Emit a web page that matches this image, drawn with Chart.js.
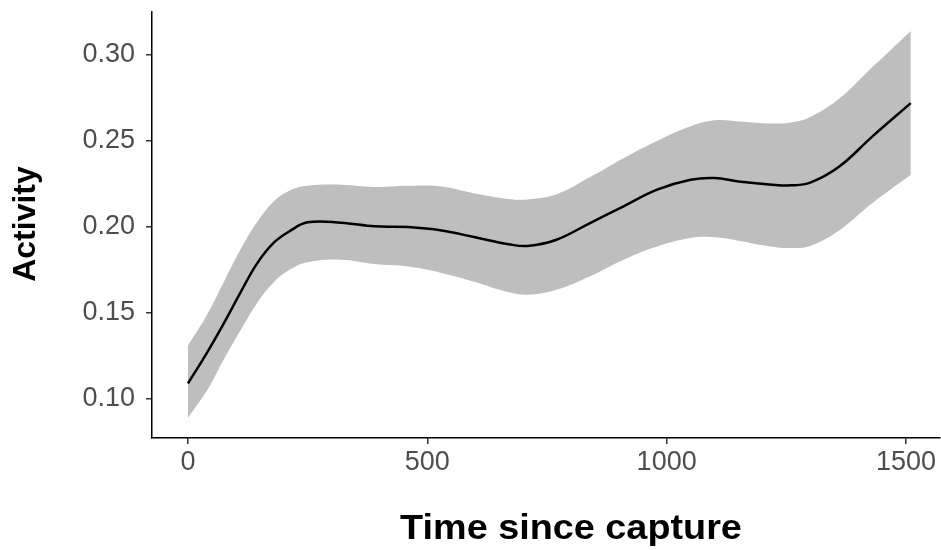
<!DOCTYPE html>
<html>
<head>
<meta charset="utf-8">
<script src="https://cdn.jsdelivr.net/npm/chart.js@4"></script>
<style>
    body { margin: 0; background: #fff; overflow: hidden; }
</style>
</head>
<body>
<canvas id="chart" width="941" height="550"></canvas>
<script>
// time since capture (x), fitted activity and its confidence band
var timeX = [0, 40, 75, 110, 145, 180, 215, 250, 320, 390, 460, 530, 600, 670, 710, 770,
    840, 910, 980, 1050, 1100, 1150, 1220, 1260, 1300, 1360, 1430, 1510];
var activityFit = [0.109, 0.127, 0.144, 0.162, 0.179, 0.191, 0.198, 0.2027, 0.2025, 0.2004, 0.200, 0.198,
    0.194, 0.190, 0.189, 0.1926, 0.2023, 0.212, 0.2217, 0.2275, 0.2285, 0.2265, 0.2246, 0.2242,
    0.2258, 0.235, 0.2527, 0.272];
var bandUpper = [0.131, 0.149, 0.168, 0.187, 0.203, 0.215, 0.2215, 0.224, 0.2246, 0.2233, 0.224, 0.2236,
    0.2195, 0.2163, 0.216, 0.219, 0.229, 0.240, 0.250, 0.2585, 0.262, 0.2614, 0.2602, 0.2608,
    0.264, 0.2745, 0.293, 0.314];
var bandLower = [0.089, 0.105, 0.123, 0.140, 0.156, 0.168, 0.1755, 0.1795, 0.181, 0.1785, 0.177, 0.1733,
    0.168, 0.162, 0.1606, 0.1635, 0.1713, 0.181, 0.1887, 0.1936, 0.194, 0.192, 0.1885, 0.1878,
    0.189, 0.198, 0.214, 0.2304];

var xTicks = [0, 500, 1000, 1500];
var yTicks = [0.10, 0.15, 0.20, 0.25, 0.30];

function pts(ys) {
    return timeX.map(function(x, i) { return { x: x, y: ys[i] }; });
}

// axis titles drawn by hand so they sit where the original put them
var axisTitles = {
    id: 'axisTitles',
    afterDraw: function(chart) {
        var ctx = chart.ctx;
        ctx.save();
        ctx.fillStyle = '#000';
        ctx.textAlign = 'center';
        ctx.textBaseline = 'middle';
        ctx.font = 'bold 35px "Liberation Sans", Arial, sans-serif';
        ctx.save();
        ctx.translate(571, 529);
        ctx.scale(1.08, 1);
        ctx.fillText('Time since capture', 0, 0);
        ctx.restore();
        ctx.translate(26, 224);
        ctx.rotate(-Math.PI / 2);
        ctx.font = 'bold 32px "Liberation Sans", Arial, sans-serif';
        ctx.fillText('Activity', 0, 0);
        ctx.restore();
    }
};

var tickFont = { family: '"Liberation Sans", Arial, sans-serif', size: 27 };

new Chart(document.getElementById('chart'), {
    type: 'line',
    data: {
        datasets: [{
            label: 'upper',
            data: pts(bandUpper),
            borderWidth: 0,
            pointRadius: 0,
            backgroundColor: 'rgb(190,190,190)',
            fill: '+1',
            order: 1
        }, {
            label: 'lower',
            data: pts(bandLower),
            borderWidth: 0,
            pointRadius: 0,
            fill: false,
            order: 1
        }, {
            label: 'fit',
            data: pts(activityFit),
            borderColor: '#000',
            borderWidth: 2.5,
            pointRadius: 0,
            fill: false,
            order: 0
        }]
    },
    options: {
        responsive: false,
        animation: false,
        elements: { line: { tension: 0.4 } },
        layout: { padding: { top: 12, right: 1, left: 0, bottom: 0 } },
        plugins: {
            legend: { display: false },
            tooltip: { enabled: false }
        },
        scales: {
            x: {
                type: 'linear',
                min: -75,
                max: 1571,
                afterBuildTicks: function(scale) {
                    scale.ticks = xTicks.map(function(v) { return { value: v }; });
                },
                afterFit: function(scale) {
                    scale.height = 112;
                    scale.paddingLeft = 0;
                    scale.paddingRight = 0;
                },
                ticks: {
                    color: '#4d4d4d',
                    font: tickFont,
                    padding: 2,
                    maxRotation: 0,
                    callback: function(v) { return String(v); }
                },
                grid: { drawOnChartArea: false, drawTicks: true, tickLength: 6, color: '#333', lineWidth: 1.5 },
                border: { display: true, color: '#000', width: 1.5 }
            },
            y: {
                min: 0.0773,
                max: 0.325,
                afterBuildTicks: function(scale) {
                    scale.ticks = yTicks.map(function(v) { return { value: v }; });
                },
                afterFit: function(scale) {
                    scale.width = 152;
                    scale.paddingTop = 0;
                    scale.paddingBottom = 0;
                },
                ticks: {
                    color: '#4d4d4d',
                    font: tickFont,
                    padding: 11,
                    callback: function(v) { return v.toFixed(2); }
                },
                grid: { drawOnChartArea: false, drawTicks: true, tickLength: 6, color: '#333', lineWidth: 1.5 },
                border: { display: true, color: '#000', width: 1.5 }
            }
        }
    },
    plugins: [axisTitles]
});
</script>
</body>
</html>
